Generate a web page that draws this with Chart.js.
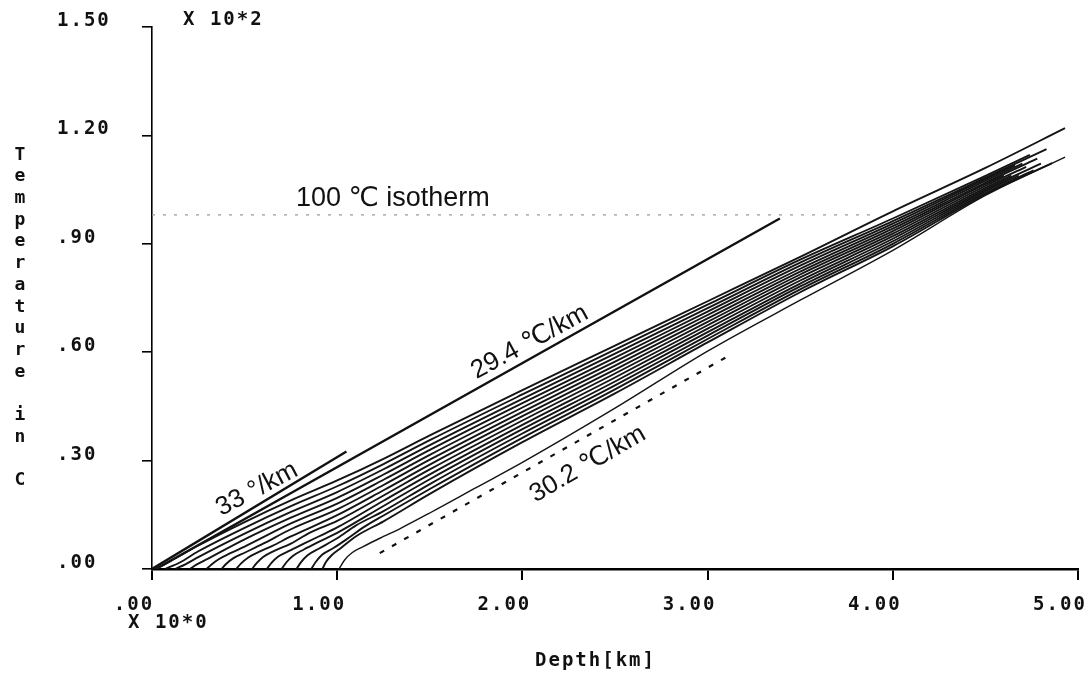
<!DOCTYPE html>
<html>
<head>
<meta charset="utf-8">
<script src="https://cdn.jsdelivr.net/npm/chart.js@4"></script>
<style>
  body { margin: 0; background: #fff; }
  canvas { display: block; }
</style>
</head>
<body>
<canvas id="tempChart" width="1092" height="675"></canvas>
<script>
// axis ticks (depth in km, temperature in units of 10^2 C)
const depthTicks = [0, 1, 2, 3, 4, 5];
const depthLabels = ['.00', '1.00', '2.00', '3.00', '4.00', '5.00'];
const tempTicks = [0, 0.3, 0.6, 0.9, 1.2, 1.5];
const tempLabels = ['.00', '.30', '.60', '.90', '1.20', '1.50'];

// modelled temperature profiles [depth, temp]
const prof00 = [[0.02, 0], [0.1, 0.022], [0.25, 0.065], [0.5, 0.13], [0.75, 0.19], [1.0, 0.245], [1.25, 0.305], [1.5, 0.37], [2.0, 0.495], [2.5, 0.618], [3.0, 0.741], [3.5, 0.864], [4.0, 0.99], [4.5, 1.11], [4.93, 1.22]];
const prof01 = [[0.07, 0], [0.15, 0.018], [0.25, 0.049], [0.5, 0.114], [0.75, 0.174], [1.0, 0.229], [1.25, 0.2905], [1.5, 0.3565], [2.0, 0.483], [2.5, 0.607], [3.0, 0.7315], [3.5, 0.856], [4.0, 0.970], [4.5, 1.088], [4.74, 1.146]];
const prof02 = [[0.125, 0], [0.18, 0.013], [0.25, 0.033], [0.5, 0.098], [0.75, 0.158], [1.0, 0.213], [1.25, 0.276], [1.5, 0.343], [2.0, 0.471], [2.5, 0.596], [3.0, 0.722], [3.5, 0.848], [4.0, 0.963], [4.5, 1.083], [4.83, 1.162]];
const prof03 = [[0.205, 0], [0.24, 0.012], [0.3, 0.028], [0.5, 0.082], [0.75, 0.142], [1.0, 0.197], [1.25, 0.2615], [1.5, 0.3295], [2.0, 0.459], [2.5, 0.585], [3.0, 0.7125], [3.5, 0.8395], [4.0, 0.956], [4.5, 1.079], [4.66, 1.117]];
const prof04 = [[0.295, 0], [0.32, 0.012], [0.36, 0.027], [0.42, 0.043], [0.5, 0.062], [0.75, 0.126], [1.0, 0.181], [1.25, 0.247], [1.5, 0.316], [2.0, 0.447], [2.5, 0.574], [3.0, 0.703], [3.5, 0.831], [4.0, 0.949], [4.5, 1.074], [4.70, 1.122]];
const prof05 = [[0.375, 0], [0.4, 0.014], [0.44, 0.03], [0.5, 0.045], [0.6, 0.07], [0.75, 0.11], [1.0, 0.165], [1.25, 0.2325], [1.5, 0.3025], [2.0, 0.435], [2.5, 0.563], [3.0, 0.6935], [3.5, 0.823], [4.0, 0.942], [4.5, 1.069], [4.78, 1.136]];
const prof06 = [[0.455, 0], [0.48, 0.015], [0.52, 0.032], [0.58, 0.048], [0.65, 0.064], [0.75, 0.09], [1.0, 0.149], [1.25, 0.218], [1.5, 0.289], [2.0, 0.423], [2.5, 0.552], [3.0, 0.684], [3.5, 0.815], [4.0, 0.935], [4.5, 1.065], [4.60, 1.089]];
const prof07 = [[0.54, 0], [0.565, 0.016], [0.6, 0.033], [0.66, 0.05], [0.75, 0.07], [0.85, 0.1], [1.0, 0.133], [1.25, 0.2035], [1.5, 0.2755], [2.0, 0.411], [2.5, 0.541], [3.0, 0.6745], [3.5, 0.807], [4.0, 0.928], [4.5, 1.06], [4.72, 1.113]];
const prof08 = [[0.62, 0], [0.645, 0.017], [0.68, 0.034], [0.74, 0.05], [0.82, 0.07], [0.9, 0.09], [1.0, 0.115], [1.25, 0.189], [1.5, 0.262], [2.0, 0.399], [2.5, 0.530], [3.0, 0.665], [3.5, 0.7985], [4.0, 0.921], [4.5, 1.055], [4.64, 1.089]];
const prof09 = [[0.70, 0], [0.725, 0.018], [0.76, 0.036], [0.82, 0.054], [0.9, 0.075], [1.0, 0.1], [1.25, 0.1745], [1.5, 0.2485], [2.0, 0.387], [2.5, 0.519], [3.0, 0.6555], [3.5, 0.790], [4.0, 0.914], [4.5, 1.050], [4.80, 1.122]];
const prof10 = [[0.78, 0], [0.805, 0.019], [0.84, 0.038], [0.9, 0.056], [1.0, 0.085], [1.1, 0.12], [1.25, 0.16], [1.5, 0.235], [2.0, 0.375], [2.5, 0.508], [3.0, 0.646], [3.5, 0.782], [4.0, 0.907], [4.5, 1.046], [4.68, 1.089]];
const prof11 = [[0.86, 0], [0.885, 0.02], [0.92, 0.04], [0.98, 0.058], [1.05, 0.082], [1.15, 0.118], [1.25, 0.148], [1.5, 0.2215], [2.0, 0.363], [2.5, 0.497], [3.0, 0.6365], [3.5, 0.774], [4.0, 0.90], [4.5, 1.041], [4.76, 1.103]];
const prof12 = [[0.92, 0], [0.94, 0.02], [0.97, 0.038], [1.02, 0.058], [1.1, 0.09], [1.25, 0.132], [1.5, 0.208], [2.0, 0.351], [2.5, 0.486], [3.0, 0.627], [3.5, 0.766], [4.0, 0.893], [4.5, 1.037], [4.86, 1.123]];
const prof13 = [[1.01, 0], [1.04, 0.025], [1.08, 0.045], [1.14, 0.062], [1.25, 0.09], [1.34, 0.112], [1.5, 0.155], [1.75, 0.225], [2.0, 0.295], [2.5, 0.445], [3.0, 0.603], [3.5, 0.744], [4.0, 0.882], [4.5, 1.034], [4.93, 1.14]];

// reference gradients and isotherm
const grad33 = [[0.0, 0], [1.05, 0.325]];
const grad294 = [[0.02, 0], [3.39, 0.97]];
const grad302 = [[1.23, 0.044], [3.10, 0.586]];
const isotherm100 = [[0, 0.98], [3.9, 0.98]];

const profiles = [prof00, prof01, prof02, prof03, prof04, prof05, prof06, prof07,
                  prof08, prof09, prof10, prof11, prof12, prof13];

const MONO = "'DejaVu Sans Mono', monospace";
const SANS = "'Liberation Sans', 'DejaVu Sans', 'Noto Sans CJK JP', sans-serif";

let datasets = [];
profiles.forEach(function (p, i) {
    datasets.push({
        data: p,
        borderColor: '#141414',
        borderWidth: i === 13 ? 1.4 : 1.9,
        cubicInterpolationMode: 'monotone'
    });
});
datasets.push({ data: grad33, borderColor: '#111', borderWidth: 2.4 });
datasets.push({ data: grad294, borderColor: '#111', borderWidth: 2.4 });
datasets.push({ data: grad302, borderColor: '#111', borderWidth: 2.2, borderDash: [5, 9] });
datasets.push({ data: isotherm100, borderColor: '#9a9a9a', borderWidth: 1.2, borderDash: [3, 8] });

// text that sits on the plot: axis captions and gradient notes
const textPlugin = {
    id: 'plotText',
    beforeDraw(chart) {
        chart.ctx.letterSpacing = '2px';
    },
    afterDraw(chart) {
        const ctx = chart.ctx;
        const xs = chart.scales.x;
        const ys = chart.scales.y;
        ctx.save();
        ctx.letterSpacing = '2px';
        ctx.fillStyle = '#111';
        ctx.font = 'bold 19px ' + MONO;
        ctx.textBaseline = 'middle';
        ctx.textAlign = 'left';
        ctx.fillText('X 10*2', 183, 20);
        ctx.fillText('X 10*0', 128, 623);
        ctx.fillText('Depth[km]', 535, 661);

        // stacked y title
        ctx.font = 'bold 18px ' + MONO;
        ctx.letterSpacing = '0px';
        ctx.textAlign = 'center';
        const title = 'Temperature in C';
        for (let i = 0; i < title.length; i++) {
            ctx.fillText(title[i], 20, 155 + i * 21.7);
        }

        // annotations
        ctx.font = '27px ' + SANS;
        ctx.textAlign = 'left';
        ctx.fillText('100 \u2103 isotherm', xs.getPixelForValue(0.777), ys.getPixelForValue(1.026));

        const notes = [
            ['33 \u00b0/km', 0.567, 0.221, -28],
            ['29.4 \u2103/km', 2.04, 0.628, -28.5],
            ['30.2 \u2103/km', 2.353, 0.29, -30]
        ];
        ctx.textAlign = 'center';
        ctx.font = '26px ' + SANS;
        for (const n of notes) {
            ctx.save();
            ctx.translate(xs.getPixelForValue(n[1]), ys.getPixelForValue(n[2]));
            ctx.rotate(n[3] * Math.PI / 180);
            ctx.fillText(n[0], 0, 0);
            ctx.restore();
        }
        ctx.restore();
    }
};

const ctx = document.getElementById('tempChart').getContext('2d');
const chart = new Chart(ctx, {
    type: 'line',
    data: { datasets: datasets },
    options: {
        responsive: false,
        animation: false,
        elements: { point: { radius: 0 }, line: { fill: false } },
        layout: { padding: { left: 57, top: 27, right: 14, bottom: 0 } },
        plugins: {
            legend: { display: false },
            tooltip: { enabled: false }
        },
        scales: {
            x: {
                type: 'linear',
                min: 0,
                max: 5,
                afterBuildTicks: s => { s.ticks = depthTicks.map(v => ({ value: v })); },
                afterFit: s => { s.height = 106; s.paddingLeft = 0; s.paddingRight = 0; },
                grid: { drawOnChartArea: false, tickLength: 11, color: '#000', lineWidth: 2 },
                border: { color: '#000', width: 2.5 },
                ticks: {
                    color: '#111',
                    font: { family: MONO, size: 19, weight: 'bold' },
                    padding: 14,
                    labelOffset: -18,
                    maxRotation: 0,
                    autoSkip: false,
                    callback: (v, i) => depthLabels[i]
                }
            },
            y: {
                type: 'linear',
                min: 0,
                max: 1.5,
                afterBuildTicks: s => { s.ticks = tempTicks.map(v => ({ value: v })); },
                afterFit: s => { s.width = 95; s.paddingTop = 0; s.paddingBottom = 0; },
                grid: { drawOnChartArea: false, tickLength: 10, color: '#000', lineWidth: 1.6 },
                border: { color: '#000', width: 1.6 },
                ticks: {
                    color: '#111',
                    font: { family: MONO, size: 19, weight: 'bold' },
                    crossAlign: 'far',
                    labelOffset: -6,
                    autoSkip: false,
                    callback: (v, i) => tempLabels[i]
                }
            }
        }
    },
    plugins: [textPlugin]
});
</script>
</body>
</html>
